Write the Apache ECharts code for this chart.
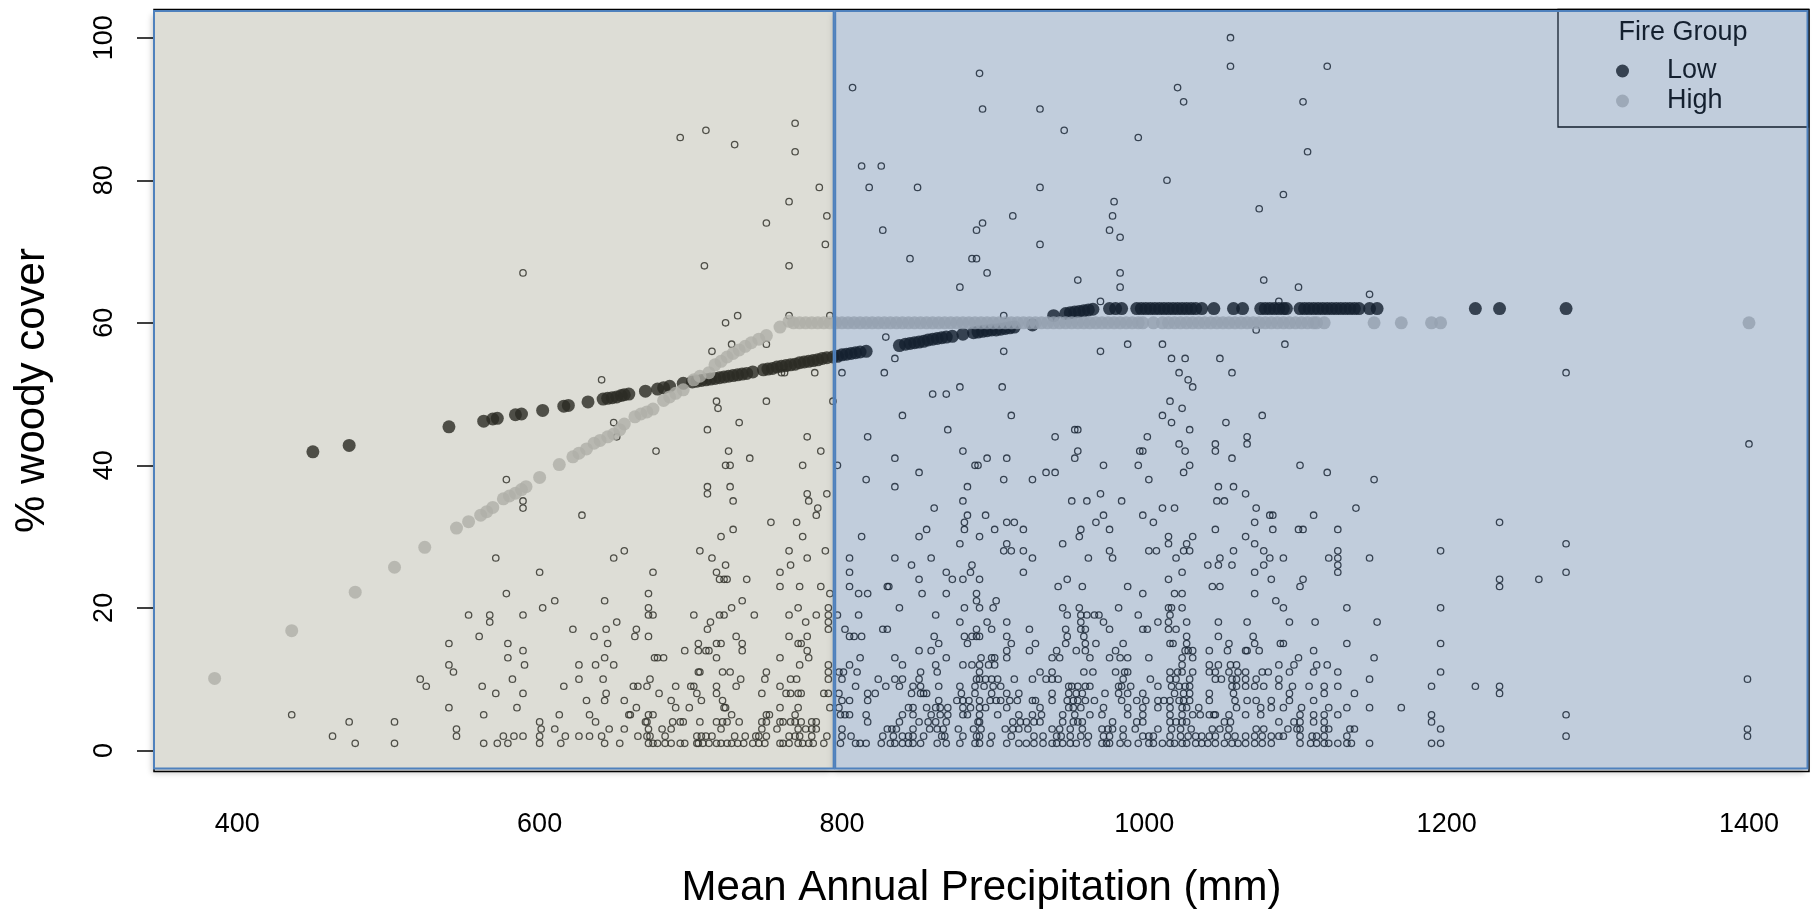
<!DOCTYPE html>
<html>
<head>
<meta charset="utf-8">
<title>Woody cover vs precipitation</title>
<script src="https://cdn.jsdelivr.net/npm/echarts@6/dist/echarts.min.js"></script>
<style>
  html, body { margin: 0; padding: 0; background: #fff; }
  #chart { width: 1817px; height: 910px; }
</style>
</head>
<body>
<div id="chart"></div>
<script>
const xTicks = [400, 600, 800, 1000, 1200, 1400];
const yTicks = [0, 20, 40, 60, 80, 100];
const xRange = [344.9, 1439.7];
const yRange = [-2.96, 103.96];

// precipitation bands behind the fire groups
const bands = [[344.9, 795.5], [795.5, 1439.7]];

// observed sites, one row per % woody cover value: [cover, [precipitation, ...]]
const rawRows = [
  [1, [478, 504, 563, 572, 579, 600, 614, 643, 653, 672, 675, 678, 683, 687, 693, 696, 704, 705, 708, 712, 717, 720, 724, 727, 731, 735, 741, 745, 749, 759, 761, 765, 771, 774, 778, 781, 788, 799, 809, 812, 816, 826, 832, 835, 840, 844, 847, 852, 863, 869, 878, 888, 891, 898, 909, 917, 922, 927, 933, 939, 942, 946, 951, 955, 962, 972, 975, 977, 984, 989, 996, 1003, 1006, 1012, 1017, 1020, 1025, 1028, 1034, 1038, 1042, 1047, 1053, 1058, 1062, 1067, 1073, 1078, 1084, 1103, 1110, 1114, 1119, 1122, 1128, 1134, 1137, 1149, 1190, 1196]],
  [2, [463, 545, 576, 583, 589, 600, 617, 626, 633, 641, 665, 671, 673, 683, 704, 707, 710, 714, 729, 736, 743, 745, 750, 765, 769, 772, 780, 790, 800, 806, 827, 834, 840, 844, 847, 854, 866, 868, 880, 889, 891, 899, 912, 927, 933, 942, 945, 951, 958, 963, 973, 977, 986, 999, 1003, 1006, 1017, 1024, 1029, 1034, 1038, 1043, 1047, 1055, 1060, 1067, 1073, 1078, 1084, 1089, 1092, 1103, 1111, 1114, 1119, 1134, 1279, 1399]],
  [3, [545, 601, 610, 646, 656, 672, 681, 687, 720, 747, 757, 771, 776, 780, 783, 800, 830, 833, 836, 847, 858, 863, 867, 877, 887, 892, 908, 913, 917, 923, 939, 944, 951, 959, 972, 976, 979, 986, 994, 1009, 1018, 1024, 1031, 1045, 1050, 1056, 1074, 1079, 1095, 1101, 1103, 1119, 1122, 1136, 1139, 1196, 1399]],
  [4, [474, 504, 600, 637, 670, 671, 688, 693, 695, 706, 717, 721, 724, 732, 747, 750, 759, 761, 766, 769, 773, 780, 783, 817, 838, 851, 857, 862, 869, 890, 891, 913, 918, 922, 927, 931, 946, 953, 956, 959, 979, 995, 999, 1017, 1021, 1025, 1028, 1053, 1057, 1089, 1099, 1103, 1112, 1119, 1190]],
  [5, [436, 563, 613, 633, 659, 660, 672, 675, 727, 750, 752, 769, 799, 802, 805, 816, 840, 847, 859, 865, 870, 880, 883, 891, 903, 917, 926, 932, 946, 954, 964, 972, 989, 999, 1017, 1025, 1032, 1037, 1043, 1046, 1047, 1056, 1067, 1077, 1103, 1112, 1119, 1128, 1190, 1279]],
  [6, [540, 585, 664, 690, 699, 722, 723, 759, 771, 792, 798, 844, 847, 856, 862, 865, 870, 880, 885, 891, 895, 909, 931, 950, 953, 958, 973, 989, 999, 1009, 1017, 1025, 1028, 1036, 1061, 1077, 1084, 1092, 1104, 1122, 1134, 1149, 1170]],
  [7, [631, 643, 656, 687, 707, 721, 800, 805, 817, 864, 876, 880, 884, 891, 898, 902, 905, 911, 916, 926, 928, 939, 949, 953, 956, 961, 967, 985, 995, 1001, 1009, 1013, 1017, 1023, 1026, 1030, 1043, 1060, 1068, 1074, 1084, 1096, 1112]],
  [8, [571, 589, 644, 679, 704, 717, 747, 763, 766, 771, 773, 788, 791, 798, 817, 822, 846, 852, 854, 856, 879, 888, 899, 909, 917, 939, 950, 955, 959, 974, 983, 989, 999, 1020, 1026, 1030, 1043, 1059, 1096, 1119, 1139, 1235]],
  [9, [525, 562, 616, 662, 665, 671, 690, 700, 702, 717, 730, 759, 809, 829, 838, 847, 852, 864, 878, 888, 894, 900, 905, 950, 952, 956, 961, 964, 983, 985, 991, 1009, 1018, 1023, 1027, 1030, 1058, 1061, 1067, 1073, 1079, 1089, 1098, 1109, 1119, 1128, 1190, 1219, 1235]],
  [10, [521, 582, 626, 642, 673, 733, 749, 766, 770, 791, 800, 824, 835, 840, 851, 889, 891, 895, 899, 903, 914, 926, 935, 939, 943, 986, 1004, 1017, 1021, 1030, 1047, 1051, 1058, 1061, 1067, 1074, 1089, 1149, 1399]],
  [11, [543, 705, 706, 721, 726, 750, 791, 798, 801, 810, 852, 863, 891, 931, 939, 960, 966, 981, 987, 989, 1017, 1022, 1025, 1032, 1043, 1047, 1056, 1062, 1067, 1078, 1082, 1096, 1112, 1128, 1196]],
  [12, [540, 590, 626, 637, 649, 772, 791, 805, 840, 862, 880, 886, 891, 897, 901, 1025, 1043, 1049, 1057, 1061, 1089, 1099, 1114, 1121]],
  [13, [579, 643, 676, 678, 682, 717, 759, 778, 812, 835, 869, 892, 899, 901, 909, 939, 944, 964, 977, 984, 989, 1003, 1025, 1032, 1102, 1152]],
  [14, [589, 696, 705, 710, 712, 734, 777, 851, 859, 909, 924, 942, 955, 961, 981, 1027, 1029, 1032, 1043, 1055, 1067, 1068, 1076, 1112]],
  [15, [540, 579, 645, 705, 717, 720, 734, 771, 773, 864, 883, 912, 928, 948, 961, 968, 986, 1017, 1019, 1028, 1056, 1073, 1090, 1092, 1134, 1196]],
  [16, [560, 636, 663, 672, 730, 765, 777, 805, 808, 813, 861, 881, 886, 889, 891, 909, 949, 960, 1028, 1049, 1072]],
  [17, [622, 644, 664, 711, 791, 802, 827, 830, 889, 899, 924, 948, 958, 961, 977, 999, 1002, 1016, 1021]],
  [18, [567, 651, 713, 776, 791, 878, 896, 909, 958, 973, 1009, 1016, 1028, 1049, 1068, 1096, 1113, 1154]],
  [19, [553, 567, 589, 672, 675, 702, 719, 722, 742, 765, 783, 791, 797, 811, 862, 949, 958, 962, 967, 970, 996, 1017]],
  [20, [602, 672, 727, 771, 791, 838, 881, 891, 900, 946, 957, 983, 1016, 1018, 1025, 1092, 1134, 1196]],
  [21, [610, 643, 734, 889, 902, 1087]],
  [22, [578, 672, 792, 811, 817, 853, 869, 889, 999, 1020, 1025, 1073]],
  [23, [759, 772, 786, 805, 830, 831, 943, 959, 989, 1045, 1050, 1103, 1235]],
  [24, [719, 722, 724, 737, 851, 873, 880, 891, 949, 1016, 1084, 1105, 1235, 1261]],
  [25, [600, 675, 717, 759, 805, 869, 885, 920, 1025, 1073, 1128, 1279]],
  [26, [723, 766, 846, 886, 1042, 1049, 1058, 1079, 1128]],
  [27, [571, 649, 714, 777, 805, 835, 859, 926, 963, 979, 1021, 1050, 1083, 1092, 1122, 1128, 1149]],
  [28, [656, 706, 765, 789, 907, 912, 920, 977, 1003, 1008, 1026, 1030, 1059, 1079, 1128, 1196]],
  [29, [878, 909, 946, 1016, 1028, 1073, 1279]],
  [30, [720, 774, 813, 851, 891, 957, 1016, 1032, 1067]],
  [31, [728, 856, 881, 901, 920, 958, 977, 1047, 1085, 1102, 1105, 1128]],
  [32, [753, 770, 881, 909, 914, 968, 1006, 1073, 1235]],
  [33, [628, 783, 883, 895, 973, 999, 1083, 1085, 1112]],
  [34, [589, 784, 861, 1012, 1020, 1074, 1140]],
  [35, [589, 728, 778, 880, 952, 962, 985, 1048, 1053]],
  [36, [711, 777, 790, 971, 1067]],
  [37, [711, 726, 835, 883, 1049, 1059]],
  [38, [578, 816, 907, 926, 1003, 1152]],
  [39, [851, 935, 941, 1026, 1121]],
  [40, [723, 726, 774, 797, 888, 890, 973, 996, 1030, 1103]],
  [41, [739, 835, 896, 909, 954, 1058]],
  [42, [677, 725, 786, 880, 956, 997, 999, 1027, 1047]],
  [43, [1023, 1047, 1068, 1400]],
  [44, [651, 777, 817, 941, 1002, 1068]],
  [45, [711, 870, 954, 956, 1030]],
  [46, [649, 732, 1018, 1054]],
  [47, [840, 912, 1012, 1078]],
  [48, [718, 1025]],
  [49, [717, 750, 794, 1017]],
  [50, [860, 869]],
  [51, [878, 906, 1032]],
  [52, [641, 1029]],
  [53, [760, 762, 782, 800, 828, 1023, 1058, 1279]],
  [55, [835, 1018, 1027, 1050]],
  [56, [714, 907, 971]],
  [57, [727, 750, 989, 1012, 1093]],
  [58, [829]],
  [59, [1074]],
  [60, [723]],
  [61, [731, 765, 792, 907]],
  [63, [971, 1089]],
  [64, [1149]],
  [65, [878, 984, 1102]],
  [66, [956, 1079]],
  [67, [589, 896, 984]],
  [68, [709, 765]],
  [69, [845, 886, 889]],
  [71, [789, 931]],
  [72, [984]],
  [73, [827, 889, 977]],
  [74, [750, 893]],
  [75, [790, 913, 979]],
  [76, [1076]],
  [77, [765, 980]],
  [78, [1092]],
  [79, [785, 818, 850, 931]],
  [80, [1015]],
  [82, [813, 826]],
  [84, [769, 1108]],
  [85, [729]],
  [86, [693, 996]],
  [87, [710, 947]],
  [88, [769]],
  [90, [893, 931]],
  [91, [1026, 1105]],
  [93, [807, 1022]],
  [95, [891]],
  [96, [1057, 1121]],
  [100, [1057]]
];

// fitted cover, low fire group
const lowCurve = [
  [450, 41.9], [474, 42.8], [540, 45.4], [563, 46.2], [569, 46.5], [572, 46.6], [584, 47.1], [588, 47.2],
  [602, 47.7], [616, 48.3], [619, 48.4], [632, 48.9], [642, 49.3], [645, 49.4], [648, 49.5], [651, 49.6],
  [654, 49.8], [656, 49.9], [659, 50.0], [670, 50.4], [678, 50.7], [682, 50.9], [686, 51.1], [695, 51.5],
  [701, 51.7], [704, 51.8], [707, 51.9], [710, 52.0], [713, 52.1], [716, 52.2], [719, 52.3], [722, 52.4],
  [725, 52.5], [728, 52.6], [731, 52.7], [734, 52.8], [737, 52.9], [741, 53.1], [748, 53.4], [751, 53.5],
  [754, 53.6], [757, 53.8], [760, 53.9], [763, 54.0], [766, 54.1], [769, 54.2], [772, 54.4], [775, 54.5],
  [778, 54.6], [781, 54.7], [784, 54.8], [787, 55.0], [790, 55.1], [794, 55.2], [797, 55.3], [800, 55.5],
  [803, 55.6], [806, 55.7], [809, 55.8], [812, 55.9], [816, 56.0], [838, 56.8], [842, 57.0], [845, 57.1],
  [848, 57.2], [851, 57.3], [854, 57.4], [857, 57.6], [860, 57.7], [863, 57.8], [866, 57.9], [869, 58.0],
  [873, 58.1], [880, 58.4], [887, 58.6], [890, 58.7], [893, 58.8], [896, 58.9], [899, 59.0], [902, 59.0],
  [905, 59.1], [908, 59.2], [911, 59.3], [914, 59.4], [926, 59.7], [940, 61.0], [948, 61.3], [951, 61.4],
  [954, 61.5], [957, 61.6], [960, 61.7], [963, 61.8], [966, 61.9]
];
const lowPlateau = 62;
const lowPlateauX = [977, 981, 985, 995, 998, 1001, 1004, 1007, 1010, 1013, 1016, 1019, 1022, 1025, 1028, 1031,
  1034, 1038, 1046, 1059, 1065, 1077, 1080, 1083, 1086, 1089, 1092, 1094, 1103, 1106, 1109, 1112, 1115, 1118,
  1121, 1124, 1127, 1130, 1133, 1136, 1139, 1142, 1149, 1154, 1219, 1235, 1279];

// fitted cover, high fire group
const highCurve = [
  [385, 10.1], [436, 16.8], [478, 22.2], [504, 25.7], [524, 28.5], [545, 31.2], [553, 32.1], [561, 33.0],
  [565, 33.5], [569, 34.1], [576, 35.3], [580, 35.7], [584, 36.1], [588, 36.6], [591, 37.0], [600, 38.3],
  [613, 40.1], [622, 41.2], [626, 41.7], [631, 42.3], [636, 43.1], [640, 43.5], [645, 44.0], [649, 44.4],
  [653, 45.0], [656, 45.8], [663, 46.8], [667, 47.2], [671, 47.5], [675, 47.9], [682, 49.1], [686, 49.6],
  [690, 50.1], [695, 50.6], [702, 52.0], [706, 52.5], [712, 53.0], [716, 54.1], [720, 54.6], [724, 55.2],
  [728, 55.7], [732, 56.2], [736, 56.7], [740, 57.2], [745, 57.7], [750, 58.2], [759, 59.4], [765, 60.2]
];
const highPlateau = 60;
const highPlateauX = [768, 772, 776, 780, 784, 788, 792, 796, 800, 804, 808, 812, 816, 820, 824, 828, 832, 836,
  840, 844, 848, 852, 856, 860, 864, 868, 872, 876, 880, 884, 888, 892, 896, 900, 904, 908, 912, 916, 920, 924,
  928, 932, 936, 940, 944, 948, 952, 956, 960, 964, 968, 972, 976, 980, 984, 988, 992, 996, 999, 1006, 1012,
  1016, 1020, 1024, 1028, 1032, 1036, 1040, 1044, 1048, 1052, 1056, 1060, 1064, 1068, 1072, 1076, 1080, 1084,
  1088, 1092, 1096, 1100, 1104, 1108, 1112, 1114, 1119, 1152, 1170, 1190, 1196, 1400];

const FONT = '"Liberation Sans", Arial, sans-serif';
const bandFill = ['rgba(142,142,119,0.30)', 'rgba(62,100,147,0.32)'];

const rawPoints = [];
rawRows.forEach(function (row) {
  row[1].forEach(function (x) { rawPoints.push([x, row[0]]); });
});
const lowPoints = lowCurve.concat(lowPlateauX.map(function (x) { return [x, lowPlateau]; }));
const highPoints = highCurve.concat(highPlateauX.map(function (x) { return [x, highPlateau]; }));
const bandData = bands.map(function (b, i) { return [b[0], b[1], yRange[1], yRange[0], i]; });

function bandRect(api, inset) {
  const tl = api.coord([api.value(0), api.value(2)]);
  const br = api.coord([api.value(1), api.value(3)]);
  return { x: tl[0] + inset, y: tl[1] + 1.5, width: br[0] - tl[0] - 1.5 - inset, height: br[1] - tl[1] - 4.5 };
}

const chart = echarts.init(document.getElementById('chart'));
chart.setOption({
  animation: false,
  backgroundColor: '#fff',
  textStyle: { fontFamily: FONT },
  grid: {
    left: 154, right: 8, top: 9.5, bottom: 138.5,
    show: true, borderColor: '#000', borderWidth: 1.5, backgroundColor: 'transparent',
    outerBoundsMode: 'none'
  },
  xAxis: {
    type: 'value',
    min: xRange[0], max: xRange[1],
    name: 'Mean Annual Precipitation (mm)',
    nameLocation: 'middle', nameGap: 96,
    nameTextStyle: { fontSize: 42, color: '#000', fontFamily: FONT },
    axisLine: { show: false },
    splitLine: { show: false },
    axisTick: { show: true, length: 17, customValues: xTicks, lineStyle: { color: '#000', width: 1.5 } },
    axisLabel: {
      customValues: xTicks, margin: 40, fontSize: 27, color: '#000', fontFamily: FONT,
      formatter: function (v) { return String(v); }
    }
  },
  yAxis: {
    type: 'value',
    min: yRange[0], max: yRange[1],
    name: '% woody cover',
    nameLocation: 'middle', nameGap: 101,
    nameTextStyle: { fontSize: 42, color: '#000', fontFamily: FONT },
    axisLine: { show: false },
    splitLine: { show: false },
    axisTick: { show: true, length: 17, customValues: yTicks, lineStyle: { color: '#000', width: 1.5 } },
    axisLabel: {
      customValues: yTicks, rotate: 90, margin: 36, fontSize: 27, color: '#000', fontFamily: FONT,
      formatter: function (v) { return String(v); }
    }
  },
  legend: {
    data: ['Low', 'High'],
    orient: 'vertical',
    left: 1558, top: 9.5,
    padding: [46.5, 86, 11, 58],
    itemWidth: 13, itemHeight: 13, itemGap: 0,
    icon: 'circle',
    borderColor: '#000', borderWidth: 1.3,
    selectedMode: false,
    textStyle: { fontSize: 27, lineHeight: 30, color: '#000', fontFamily: FONT, padding: [0, 0, 0, 33] }
  },
  graphic: [{
    type: 'text', x: 1683, y: 32.3, z: 10,
    style: { text: 'Fire Group', font: '27px ' + FONT, fill: '#000', align: 'center', verticalAlign: 'middle' }
  }],
  series: [
    {
      // white backing that casts the soft shadow round the shaded panel
      name: 'bandShadow', type: 'custom', z: 1, silent: true,
      data: bandData,
      encode: { x: [0, 1], y: [2, 3] },
      renderItem: function (params, api) {
        return {
          type: 'rect', shape: bandRect(api, 1),
          style: { fill: '#fff', shadowBlur: 6, shadowOffsetX: -3, shadowOffsetY: 4, shadowColor: 'rgba(0,0,0,0.22)' }
        };
      }
    },
    {
      name: 'sites', type: 'scatter', data: rawPoints, symbolSize: 6.4, silent: true, z: 2,
      itemStyle: { color: 'rgba(0,0,0,0)', borderColor: '#000', borderWidth: 1.3 }
    },
    {
      name: 'Low', type: 'scatter', data: lowPoints, symbolSize: 13, silent: true, z: 3,
      itemStyle: { color: '#000' }
    },
    {
      name: 'High', type: 'scatter', data: highPoints, symbolSize: 13, silent: true, z: 4,
      itemStyle: { color: '#bebebe' }
    },
    {
      // translucent bands drawn over everything, as in the original
      name: 'bands', type: 'custom', z: 20, silent: true,
      data: bandData,
      encode: { x: [0, 1], y: [2, 3] },
      renderItem: function (params, api) {
        return {
          type: 'rect', shape: bandRect(api, 0),
          style: { fill: bandFill[api.value(4)], stroke: '#4f81bd', lineWidth: 2 }
        };
      }
    }
  ]
});
</script>
</body>
</html>
